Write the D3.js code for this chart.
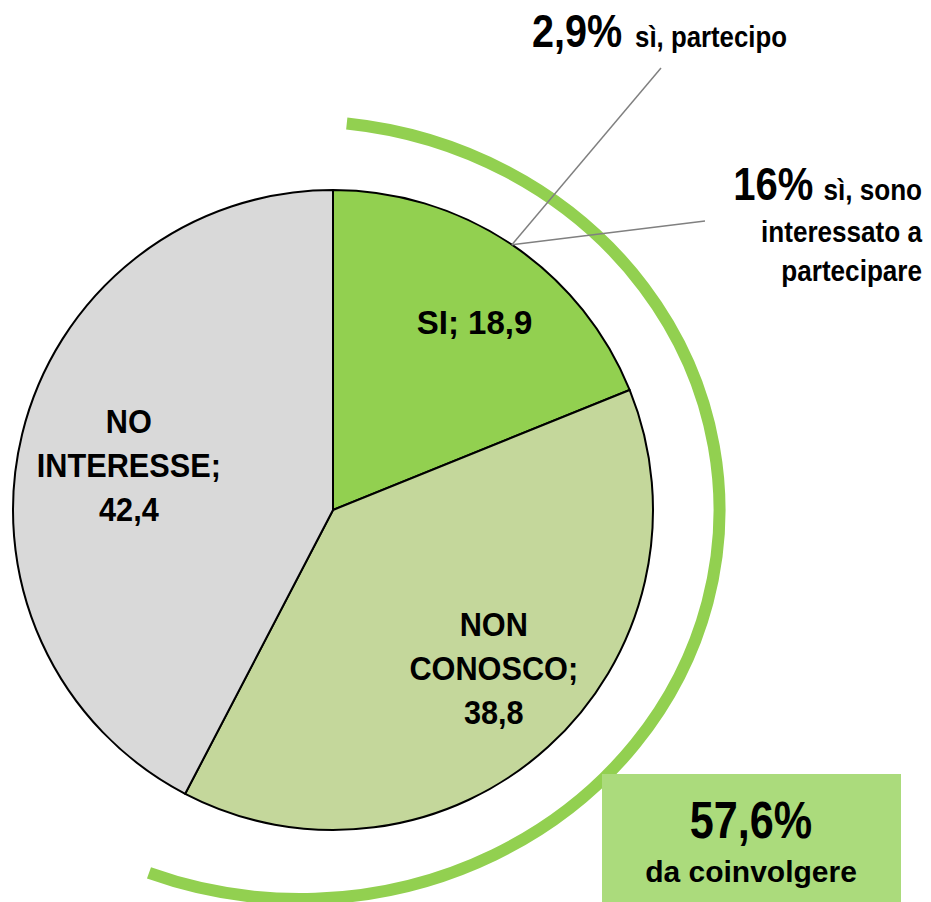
<!DOCTYPE html>
<html><head><meta charset="utf-8">
<script src="https://cdn.jsdelivr.net/npm/d3@7"></script>
<style>
html,body{margin:0;padding:0;background:#fff;}
svg{display:block;}
text{font-family:"Liberation Sans Narrow","Arial Narrow","Liberation Sans",Arial,sans-serif;font-weight:bold;fill:#000;}
</style></head><body>
<svg id="chart" width="931" height="902"></svg>
<script>
// ---- data ----
const categories = ["SI", "NON CONOSCO", "NO INTERESSE"];
const values = [18.9, 38.8, 42.4];
const sliceLabels = [["SI; 18,9"], ["NON", "CONOSCO;", "38,8"], ["NO", "INTERESSE;", "42,4"]];
const colors = ["#92d050", "#c4d79b", "#d9d9d9"];
const calloutValues = ["2,9%", "16%"];
const calloutTexts = [["sì, partecipo"], ["sì, sono", "interessato a", "partecipare"]];
const summaryValue = "57,6%";
const summaryText = "da coinvolgere";

// ---- layout ----
const W = 931, H = 902;
const cx = 333, cy = 510, R = 320;
const labelPolar = [[3, 0.735], [-3.2, 0.705], [-1.4, 0.653]]; // angle shift (deg), radius fraction
const labelScaleX = [1.0, 0.93, 0.93];
const svg = d3.select("#chart");
const g = svg.append("g").attr("transform", `translate(${cx},${cy})`);

const pie = d3.pie().sort(null).value(d => d);
const arcs = pie(values);
const arcGen = d3.arc().innerRadius(0).outerRadius(R);

g.selectAll("path.slice").data(arcs).join("path")
  .attr("class", "slice")
  .attr("d", arcGen)
  .attr("fill", (d, i) => colors[i])
  .attr("stroke", "#000").attr("stroke-width", 2).attr("stroke-linejoin", "round");

// slice labels
const fs = 33, lh = 44;
arcs.forEach((d, i) => {
  const mid = (d.startAngle + d.endAngle) / 2 + labelPolar[i][0] * Math.PI / 180;
  const r = labelPolar[i][1] * R;
  const x = r * Math.sin(mid), y = -r * Math.cos(mid);
  const lines = sliceLabels[i];
  const t = g.append("g").attr("transform", `translate(${x},${y}) scale(${labelScaleX[i]},1)`)
    .append("text").attr("text-anchor", "middle").style("font-size", fs + "px");
  lines.forEach((ln, k) => {
    t.append("tspan").attr("x", 0)
      .attr("y", (k - (lines.length - 1) / 2) * lh + fs * 0.35)
      .text(ln);
  });
});

// decorative elliptical arc around "da coinvolgere" part
const ell = {cx: 300, cy: 510, rx: 419.5, ry: 389, t0: 6.4, t1: 201.1};
const ep = t => [ell.cx + ell.rx * Math.sin(t * Math.PI / 180), ell.cy - ell.ry * Math.cos(t * Math.PI / 180)];
const p0 = ep(ell.t0), p1 = ep(ell.t1);
svg.append("path")
  .attr("d", `M${p0[0]},${p0[1]} A${ell.rx},${ell.ry} 0 1 1 ${p1[0]},${p1[1]}`)
  .attr("fill", "none").attr("stroke", "#92d050").attr("stroke-width", 12);

// leader lines from mid of SI slice edge
const si = arcs[0];
const mSI = (si.startAngle + si.endAngle) / 2;
const anchor = [cx + R * Math.sin(mSI), cy - R * Math.cos(mSI)];
const leaderEnds = [[661, 68], [705, 221]];
leaderEnds.forEach(e => {
  svg.append("line").attr("x1", anchor[0]).attr("y1", anchor[1])
    .attr("x2", e[0]).attr("y2", e[1])
    .attr("stroke", "#808080").attr("stroke-width", 1.5);
});

// callout 1
const c1 = svg.append("g").attr("transform", "translate(532,47) scale(0.86,1)")
  .append("text").attr("x", 0).attr("y", 0);
c1.append("tspan").style("font-size", "46px").text(calloutValues[0]);
c1.append("tspan").attr("dx", 15).style("font-size", "30px").text(calloutTexts[0][0]);

// callout 2 (right aligned)
const c2 = svg.append("g").attr("transform", "translate(922,0) scale(0.87,1)")
  .append("text").attr("text-anchor", "end");
const c2a = c2.append("tspan").attr("x", 0).attr("y", 200);
c2a.append("tspan").style("font-size", "46px").text(calloutValues[1]);
c2a.append("tspan").attr("dx", 11.5).style("font-size", "30px").text(calloutTexts[1][0]);
c2.append("tspan").attr("x", 0).attr("y", 242).style("font-size", "30px").text(calloutTexts[1][1]);
c2.append("tspan").attr("x", 0).attr("y", 281).style("font-size", "30px").text(calloutTexts[1][2]);

// summary box
svg.append("rect").attr("x", 602).attr("y", 774).attr("width", 299).attr("height", H - 774)
  .attr("fill", "#abdb7c");
svg.append("g").attr("transform", "translate(751,838) scale(0.83,1)")
  .append("text").attr("text-anchor", "middle")
  .style("font-size", "52px").text(summaryValue);
svg.append("text").attr("x", 751).attr("y", 882).attr("text-anchor", "middle")
  .style("font-size", "30px").text(summaryText);
</script>
</body></html>
